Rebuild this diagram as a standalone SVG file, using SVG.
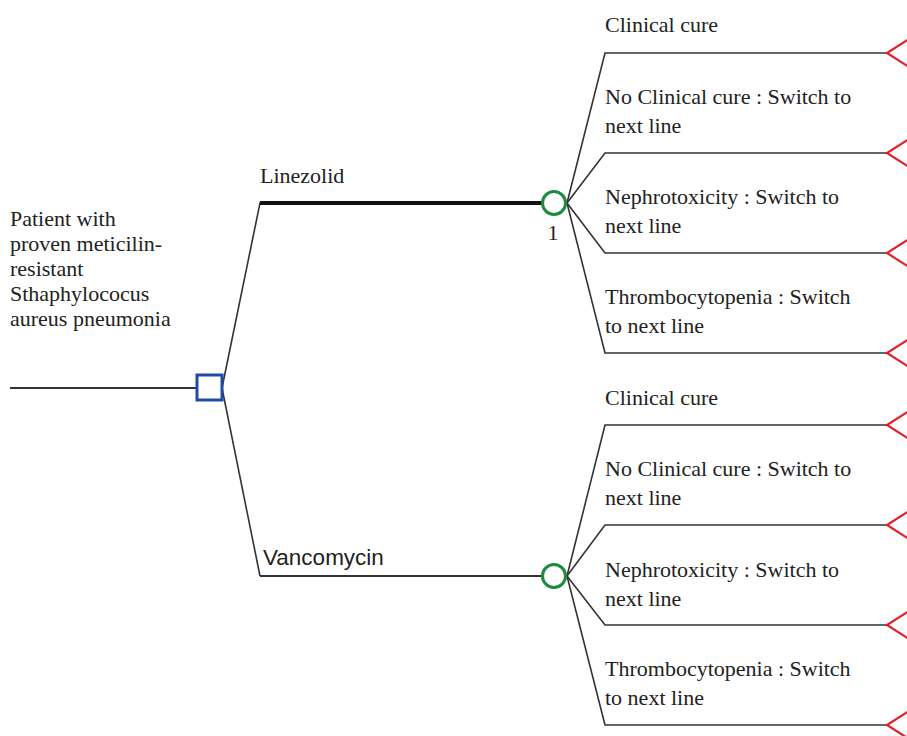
<svg xmlns="http://www.w3.org/2000/svg" width="907" height="736" viewBox="0 0 907 736">
<style>
.t{font-family:"Liberation Serif","Times New Roman",serif;font-size:22px;fill:#222}
.s{font-family:"Liberation Sans",Arial,sans-serif;font-size:22.5px;fill:#222}
.ln{stroke:#333;stroke-width:1.6;fill:none}
.br{stroke:#333;stroke-width:2;fill:none}
.term{stroke:#e0202a;stroke-width:2.2;fill:none}
.chance{stroke:#1e8a40;stroke-width:3;fill:#fff}
.dec{stroke:#1f4aa8;stroke-width:3;fill:#fff}
</style>
<defs>
<path id="tm" d="M909,-14 L887,0 L909,14" class="term"/>
</defs>
<rect width="907" height="736" fill="#fff"/>
<g id="connectors">
<line class="br" x1="10" y1="388" x2="197" y2="388"/>
<polyline class="ln" points="222,388 260,203 541,203"/>
<line x1="260" y1="203" x2="542" y2="203" stroke="#111" stroke-width="4"/>
<polyline class="ln" points="222,388 260,576"/>
<polyline class="br" points="260,576 260,576 542,576"/>
<polyline class="ln" points="567,203 605,53 887,53"/>
<polyline class="ln" points="567,203 605,153 887,153"/>
<polyline class="ln" points="567,203 605,253 887,253"/>
<polyline class="ln" points="567,203 605,353 887,353"/>
<polyline class="ln" points="567,576 605,425 887,425"/>
<polyline class="ln" points="567,576 605,525 887,525"/>
<polyline class="ln" points="567,576 605,625 887,625"/>
<polyline class="ln" points="567,576 605,725 887,725"/>
</g>
<g id="root">
<text class="t"><tspan x="10" y="226">Patient with</tspan><tspan x="10" y="251">proven meticilin-</tspan><tspan x="10" y="276">resistant</tspan><tspan x="10" y="301">Sthaphylococus</tspan><tspan x="10" y="326">aureus pneumonia</tspan></text>
</g>
<g id="decision"><rect class="dec" x="197" y="375" width="25" height="25"/></g>
<g id="linezolid">
<text class="t" x="260" y="183">Linezolid</text>
<circle class="chance" cx="554" cy="203" r="11.5"/>
<text class="t" x="553" y="240" text-anchor="middle">1</text>
</g>
<g id="vancomycin">
<text class="s" x="263" y="565">Vancomycin</text>
<circle class="chance" cx="554" cy="576" r="11.5"/>
</g>
<g id="lz-outcomes">
<text class="t" x="605" y="32">Clinical cure</text>
<use href="#tm" y="53"/>
<text class="t"><tspan x="605" y="104">No Clinical cure : Switch to</tspan><tspan x="605" y="133">next line</tspan></text>
<use href="#tm" y="153"/>
<text class="t"><tspan x="605" y="204">Nephrotoxicity : Switch to</tspan><tspan x="605" y="233">next line</tspan></text>
<use href="#tm" y="253"/>
<text class="t"><tspan x="605" y="304">Thrombocytopenia : Switch</tspan><tspan x="605" y="333">to next line</tspan></text>
<use href="#tm" y="353"/>
</g>
<g id="vc-outcomes">
<text class="t" x="605" y="405">Clinical cure</text>
<use href="#tm" y="425"/>
<text class="t"><tspan x="605" y="476">No Clinical cure : Switch to</tspan><tspan x="605" y="505">next line</tspan></text>
<use href="#tm" y="525"/>
<text class="t"><tspan x="605" y="577">Nephrotoxicity : Switch to</tspan><tspan x="605" y="606">next line</tspan></text>
<use href="#tm" y="625"/>
<text class="t"><tspan x="605" y="676">Thrombocytopenia : Switch</tspan><tspan x="605" y="705">to next line</tspan></text>
<use href="#tm" y="725"/>
</g>
</svg>
